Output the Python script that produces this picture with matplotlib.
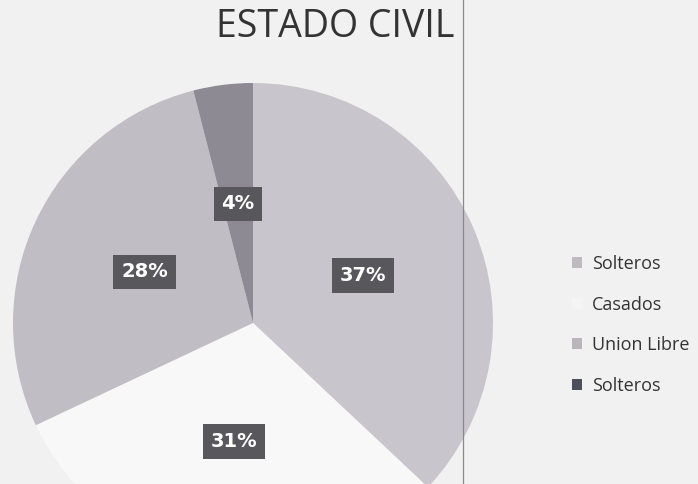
import matplotlib
matplotlib.use("Agg")
import matplotlib.pyplot as plt
from matplotlib.patches import Patch
from matplotlib.lines import Line2D

# ---------------------------------------------------------------------------
# Data
# ---------------------------------------------------------------------------
categories = ["Solteros", "Casados", "Union Libre", "Solteros"]
shares = [37, 31, 28, 4]
slice_colors = ["#c9c5cd", "#f8f8f8", "#c1bdc4", "#8d8a94"]
legend_colors = ["#bdbbbf", "#f4f4f4", "#b8b6ba", "#4e4e5c"]

BG = "#f1f1f1"

fig = plt.figure(figsize=(6.98, 4.84), dpi=100, facecolor=BG)

# pie axes: centre ~ (253, 323) px, radius ~ 240 px
W, H = 698, 484
cx, cy, r = 253, 323, 240
ax = fig.add_axes([(cx - r) / W, (H - cy - r) / H, 2 * r / W, 2 * r / H])
ax.set_facecolor("none")

wedges, texts, autotexts = ax.pie(
    shares,
    colors=slice_colors,
    startangle=90,
    counterclock=False,
    autopct="%d%%",
    pctdistance=0.5,
    radius=1.0,
    wedgeprops={"linewidth": 0},
    textprops={"color": "white", "fontsize": 14, "fontweight": "bold",
               "family": "DejaVu Sans"},
)
for t in autotexts:
    t.set_bbox(dict(boxstyle="square,pad=0.4", facecolor="#58585c",
                    edgecolor="none"))
ax.set_xlim(-1, 1)
ax.set_ylim(-1, 1)
ax.set_aspect("equal")
ax.axis("off")

# title
fig.text(335 / W, 1 - 27 / H, "ESTADO CIVIL", ha="center", va="center",
         fontsize=27, color="#333333", family="Open Sans")

# vertical scan line
fig.add_artist(Line2D([463 / W, 463 / W], [0, 1], color="#8a8a8a",
                      linewidth=0.9, transform=fig.transFigure))

# legend
handles = [Patch(facecolor=c, edgecolor="none") for c in legend_colors]
leg = fig.legend(
    handles, categories,
    loc="center left",
    bbox_to_anchor=(572 / W, 1 - 325 / H),
    frameon=False,
    borderpad=0,
    borderaxespad=0,
    handlelength=0.55,
    handleheight=0.55,
    handletextpad=0.55,
    labelspacing=1.25,
    prop={"family": "Open Sans", "size": 13},
)
for t in leg.get_texts():
    t.set_color("#333333")

fig.savefig("out.png", dpi=100, facecolor=BG)
